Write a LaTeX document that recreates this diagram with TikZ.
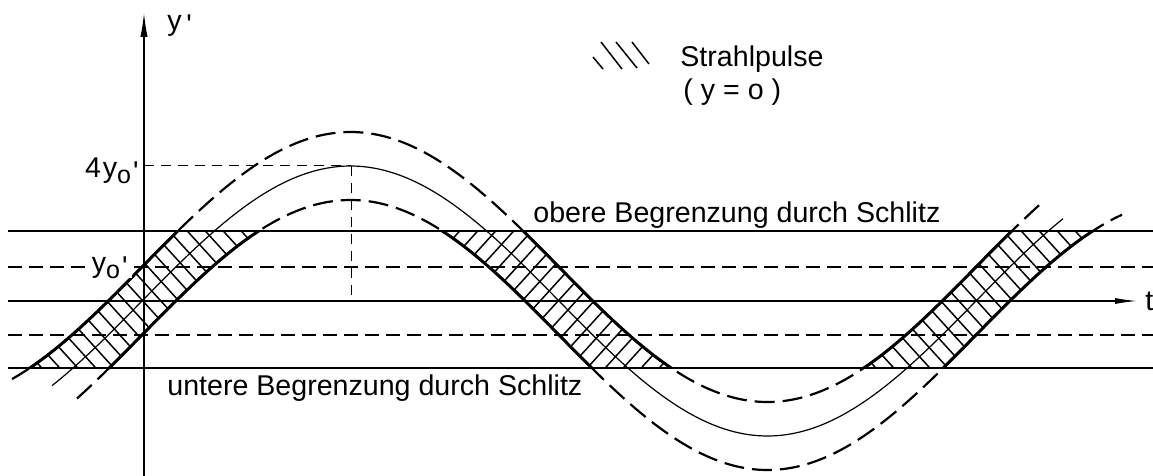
\documentclass[tikz,border=0pt]{standalone}
\usepackage{fontspec}
\setmainfont{Liberation Sans}
\usetikzlibrary{arrows.meta}

\newcommand{\subo}{\raisebox{-3pt}{\fontsize{12.5}{12.5}\selectfont o}}
\newcommand{\primemark}{\raisebox{-2pt}{\textquotesingle}}

\begin{document}
\begin{tikzpicture}[
    x=0.5pt, y=-0.5pt,
    declare function={wave(\s)=135*sin((\s-142)/417*180);},
    every node/.style={font=\fontsize{14.3}{17}\selectfont, inner sep=0pt},
    axis/.style     ={line width=0.6pt},
    slit/.style     ={line width=1.4pt},
    guide/.style    ={line width=1pt, dash pattern=on 7pt off 3.5pt},
    helper/.style   ={line width=0.5pt, dash pattern=on 5pt off 3.5pt},
    envelope/.style ={line width=1.1pt, dash pattern=on 10pt off 4pt},
    bandedge/.style ={line width=1.5pt},
    hatchline/.style={line width=0.75pt}
]
\useasboundingbox (0,0) rectangle (1153,476);

% Axes
\coordinate (ybot)   at (144,476);
\coordinate (ytop)   at (144,13);
\coordinate (tleft)  at (8,301);
\coordinate (tright) at (1137,301);
\draw[axis, -{Latex[length=12pt,width=3.6pt]}] (ybot) -- (ytop);
\draw[axis, -{Latex[length=11pt,width=3pt]}] (tleft) -- (tright);
\node[anchor=base west] (ylab) at (167,31) {y\,\primemark};
\node[anchor=west] (tlab) at (1145,301) {t};

% Slit limits and y0' levels
\draw[slit]  (8,231) coordinate (slitTL) -- (1153,231) coordinate (slitTR);
\draw[slit]  (8,368) coordinate (slitBL) -- (1153,368) coordinate (slitBR);
\draw[guide] (8,267) coordinate (gTL) -- (1153,267) coordinate (gTR);
\draw[guide] (8,335) coordinate (gBL) -- (1153,335) coordinate (gBR);

% Hatched beam pulses inside the slit
\foreach \cx/\dir in {142/1, 559/-1, 976/1} {
  \pgfmathsetmacro{\ca}{\cx-130}
  \pgfmathsetmacro{\cb}{\cx+130}
  \begin{scope}
    \clip (0,231) rectangle (1153,368);
    \clip plot[domain=\ca:\cb, samples=40] (\x,{267-wave(\x)})
       -- plot[domain=\cb:\ca, samples=40] (\x,{335-wave(\x)}) -- cycle;
    \foreach \k in {-16,...,16}
      \draw[hatchline] ({\cx+18*\k-150},{300-165*\dir}) -- ({\cx+18*\k+150},{300+165*\dir});
  \end{scope}
  \begin{scope}
    \clip (0,231) rectangle (1153,368);
    \draw[bandedge] plot[domain=\ca:\cb, samples=40, smooth] (\x,{267-wave(\x)});
    \draw[bandedge] plot[domain=\ca:\cb, samples=40, smooth] (\x,{335-wave(\x)});
  \end{scope}
}

% Beam path and its envelopes
\draw[axis]     plot[domain=52:1063, samples=150, smooth] (\x,{301-wave(\x)});
\draw[envelope] plot[domain=12:1045, samples=150, smooth] (\x,{267-wave(\x)});
\draw[envelope] plot[domain=77:1122, samples=150, smooth] (\x,{335-wave(\x)});

% Peak marks
\coordinate (peak) at (351,166);
\coordinate (peakaxis) at (144,166);
\coordinate (peakfoot) at (351,301);
\draw[helper] (peakaxis) -- (peak);
\draw[helper] (peak) -- (peakfoot);
\node[anchor=base east] (peaklab) at (139,177) {4\kern1pt y\subo\kern1pt\primemark};
\node[anchor=base east, fill=white, inner xsep=2pt] (ylevlab) at (132,272) {y\subo\kern1pt\primemark};

% Labels of the slit
\node[anchor=base west] (upper) at (533,223) {obere Begrenzung durch Schlitz};
\node[anchor=base west] (lower) at (167,395) {untere Begrenzung durch Schlitz};

% Legend
\draw[hatchline] (593,57) -- (603,69);
\draw[hatchline] (601,42) -- (622,69);
\draw[hatchline] (616,42) -- (637,68);
\draw[hatchline] (632,42) -- (649,64);
\node[anchor=base west] (legend) at (680,67) {Strahlpulse};
\node[anchor=base west] (legcond) at (683,100) {( y = o )};

\end{tikzpicture}
\end{document}
